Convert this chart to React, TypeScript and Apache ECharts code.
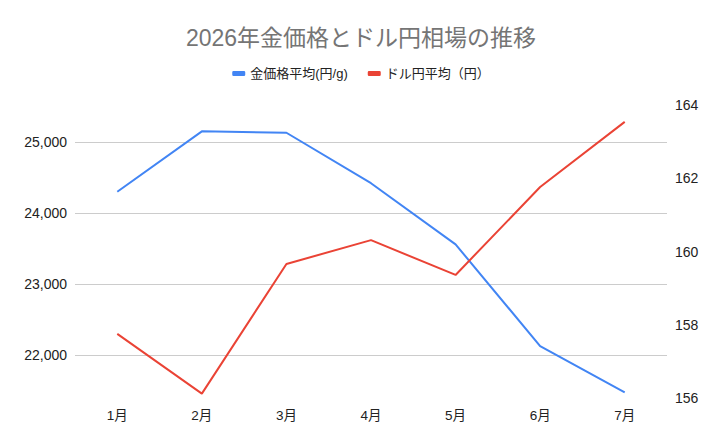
import React, { useEffect, useRef } from "react";
import * as echarts from "echarts";

const titleText = "2026年金価格とドル円相場の推移";
const months = ["1月", "2月", "3月", "4月", "5月", "6月", "7月"];
const goldName = "金価格平均(円/g)";
const usdName = "ドル円平均（円）";
const goldValues = [24300, 25150, 25130, 24420, 23560, 22130, 21480];
const usdValues = [157.75, 156.12, 159.66, 160.31, 159.36, 161.76, 163.54];
const leftTicks = [22000, 23000, 24000, 25000];
const leftMin = 21400;
const leftMax = 25520;
const rightMin = 156;
const rightMax = 164;
const rightInterval = 2;

const FONT = '"Liberation Sans", Arial, "Noto Sans CJK JP", sans-serif';

export default function App() {
  const ref = useRef<HTMLDivElement>(null);
  useEffect(() => {
    if (!ref.current) return;
    const chart = echarts.init(ref.current, undefined, { renderer: "svg" });
    chart.setOption({
      animation: false,
      backgroundColor: "#ffffff",
      textStyle: { fontFamily: FONT },
      title: {
        text: titleText,
        left: "center",
        top: 21,
        textStyle: {
          fontFamily: FONT,
          fontSize: 23,
          fontWeight: "normal",
          color: "#757575",
        },
      },
      legend: {
        top: 62,
        left: "center",
        icon: "roundRect",
        itemWidth: 13,
        itemHeight: 5,
        itemGap: 20,
        textStyle: { fontFamily: FONT, fontSize: 13, color: "#222222" },
        data: [goldName, usdName],
      },
      grid: { left: 75, right: 55, top: 105, bottom: 48 },
      xAxis: {
        type: "category",
        data: months,
        boundaryGap: true,
        axisLine: { show: false },
        axisTick: { show: false },
        axisLabel: { fontFamily: FONT, fontSize: 13.5, color: "#222222", margin: 11 },
        splitLine: { show: false },
      },
      yAxis: [
        {
          type: "value",
          position: "left",
          min: leftMin,
          max: leftMax,
          axisLine: { show: false },
          axisTick: { show: false, customValues: leftTicks },
          axisLabel: {
            customValues: leftTicks,
            fontFamily: FONT,
            fontSize: 14,
            color: "#222222",
            margin: 8,
            formatter: (v: number) => v.toLocaleString("en-US"),
          },
          splitLine: { show: true, lineStyle: { color: "#cccccc", width: 1 } },
        },
        {
          type: "value",
          position: "right",
          min: rightMin,
          max: rightMax,
          interval: rightInterval,
          axisLine: { show: false },
          axisTick: { show: false },
          axisLabel: { fontFamily: FONT, fontSize: 14, color: "#222222", margin: 8 },
          splitLine: { show: false },
        },
      ],
      series: [
        {
          name: goldName,
          type: "line",
          yAxisIndex: 0,
          data: goldValues,
          symbol: "none",
          lineStyle: { color: "#4285F4", width: 2 },
          itemStyle: { color: "#4285F4" },
        },
        {
          name: usdName,
          type: "line",
          yAxisIndex: 1,
          data: usdValues,
          symbol: "none",
          lineStyle: { color: "#EA4335", width: 2 },
          itemStyle: { color: "#EA4335" },
        },
      ],
    });
    return () => chart.dispose();
  }, []);
  return <div ref={ref} style={{ width: 722, height: 446, margin: -8 }} />;
}
